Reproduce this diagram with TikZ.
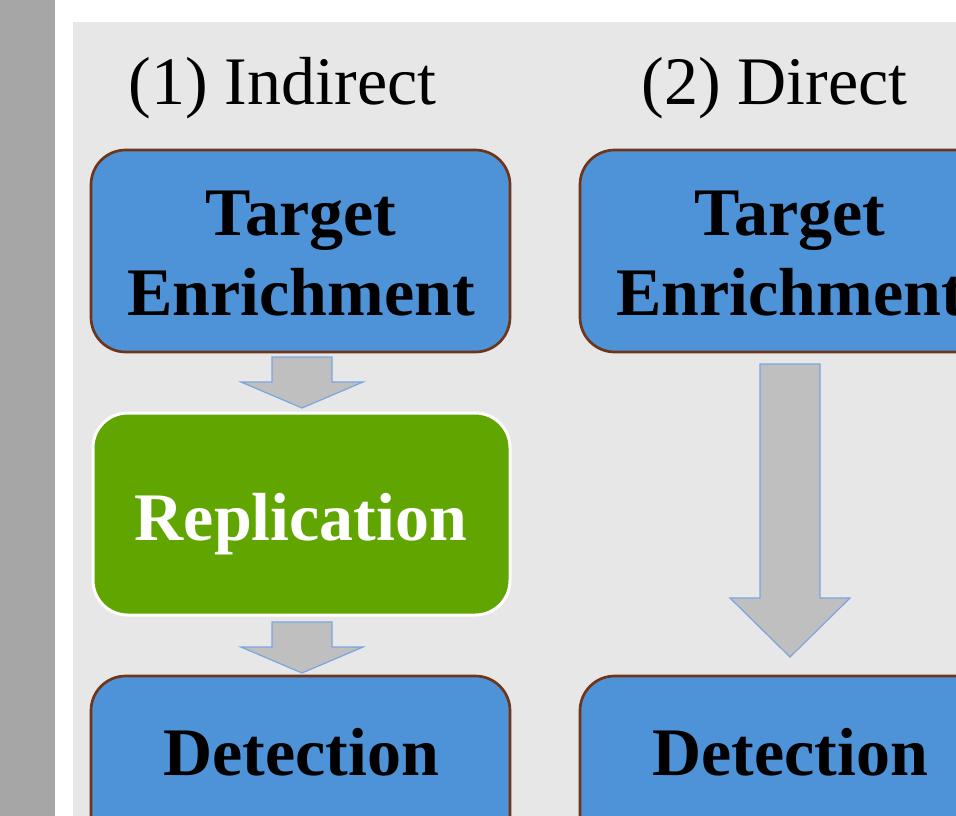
\documentclass[tikz,border=0pt]{standalone}
\usepackage{fontspec}
\setmainfont{Liberation Serif}
\definecolor{bluec}{HTML}{4E92D8}
\definecolor{brownc}{HTML}{6E3519}
\definecolor{greenc}{HTML}{61A600}
\definecolor{arrowc}{HTML}{BFBFBF}
\definecolor{arrowedge}{HTML}{79A6E0}
\definecolor{bgc}{HTML}{E7E7E7}
\definecolor{barc}{HTML}{A6A6A6}
\begin{document}
\begin{tikzpicture}[x=0.75pt,y=-0.75pt,
 box/.style={draw=brownc, line width=2pt, fill=bluec, rounded corners=26pt, minimum width=314.25pt, minimum height=151.5pt, inner sep=0pt},
 repbox/.style={box, draw=white, line width=2.25pt, fill=greenc, minimum width=312.75pt},
 lbl/.style={font=\fontsize{51}{60}\selectfont\bfseries, anchor=base, inner sep=0pt},
 replbl/.style={lbl, text=white},
 ttl/.style={font=\fontsize{51}{60}\selectfont, anchor=base, inner sep=0pt},
 blockarrow/.style={fill=arrowc, draw=arrowedge, line width=0.9pt, line join=miter}]
\useasboundingbox (0,0) rectangle (956,815);
\clip (0,0) rectangle (956,815);
\fill[white] (-5,-5) rectangle (961,820);
\fill[barc] (-5,-5) rectangle (55,820);
\fill[bgc] (73,22) rectangle (961,820);
% titles
\node[ttl] (t1) at (282.5,104) {(1) Indirect};
\node[ttl] (t2) at (774.5,104) {(2) Direct};
% boxes
\node[box] (te1) at (300.5,251) {};
\node[box] (te2) at (789.5,251) {};
\node[repbox] (rep) at (301.5,514) {};
\node[box] (det1) at (300.5,777) {};
\node[box] (det2) at (789.5,777) {};
% labels
\node[lbl] (te1a) at (301,235) {Target};
\node[lbl] (te1b) at (301,315) {Enrichment};
\node[lbl] (te2a) at (790,235) {Target};
\node[lbl] (te2b) at (790,315) {Enrichment};
\node[replbl] (repl) at (301,540) {Replication};
\node[lbl] (det1l) at (301,775) {Detection};
\node[lbl] (det2l) at (790,775) {Detection};
% block arrows
\draw[blockarrow] (272,357) -- (332,357) -- (332,382) -- (363,382) -- (302,408) -- (241,382) -- (272,382) -- cycle;
\draw[blockarrow] (272,622) -- (332,622) -- (332,647) -- (363,647) -- (302,673) -- (241,647) -- (272,647) -- cycle;
\draw[blockarrow] (760,364) -- (820,364) -- (820,598) -- (850,598) -- (790,657) -- (730,598) -- (760,598) -- cycle;
\end{tikzpicture}
\end{document}
